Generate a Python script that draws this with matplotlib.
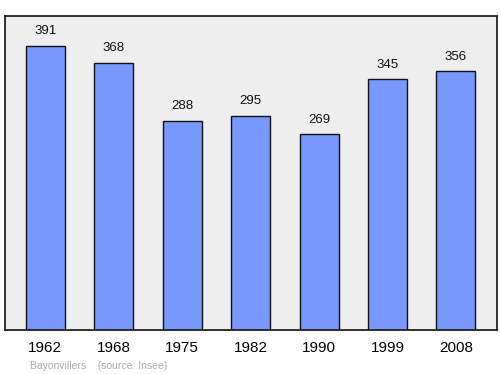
import matplotlib
matplotlib.use("Agg")
import matplotlib.pyplot as plt

plt.rcParams["font.family"] = ["Liberation Sans", "DejaVu Sans"]

years = ["1962", "1968", "1975", "1982", "1990", "1999", "2008"]
population = [391, 368, 288, 295, 269, 345, 356]

fig = plt.figure(figsize=(5, 3.74), dpi=100)
ax = fig.add_axes([0.01, 0.1176, 0.984, 0.8396])
ax.set_facecolor("#eeeeee")

x = range(len(years))
ax.bar(x, population, width=0.57, color="#7799ff", edgecolor="#111111", linewidth=1, zorder=2)
for xi, v in zip(x, population):
    ax.text(xi, v + 12, str(v), ha="center", va="bottom", fontsize=9.5, color="#111111")

ax.set_xlim(-0.59, 6.60)
ax.set_ylim(0, 432)
ax.set_yticks([])
ax.set_xticks(list(x))
ax.set_xticklabels(years, fontsize=11)
ax.tick_params(axis="x", length=0, pad=8)
for s in ax.spines.values():
    s.set_linewidth(1.3)
    s.set_color("#222222")

fig.text(0.06, 0.013, "Bayonvillers    (source: Insee)", fontsize=7.5, color="#aaaaaa")

fig.savefig("out.png", dpi=100)
